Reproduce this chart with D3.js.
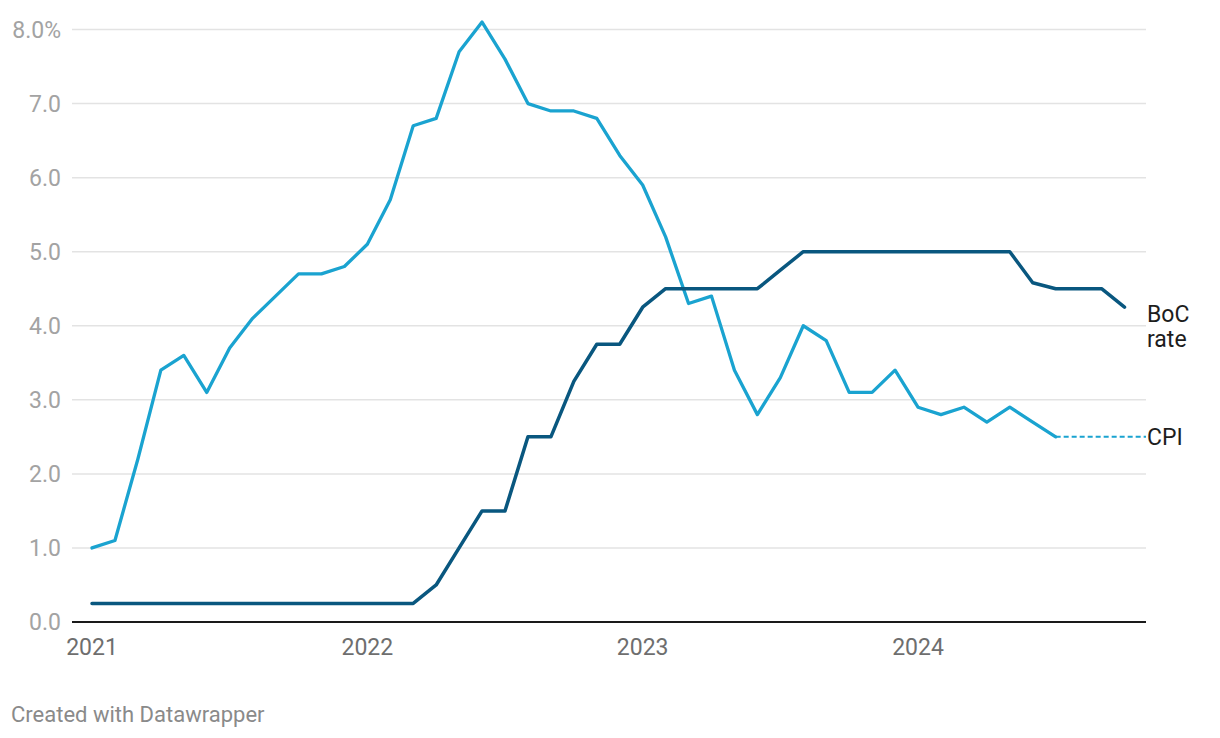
<!DOCTYPE html>
<html>
<head>
<meta charset="utf-8">
<script src="https://cdn.jsdelivr.net/npm/d3@7"></script>
<style>
  html, body { margin: 0; padding: 0; background: #fff; }
  svg { display: block; font-family: Roboto, "Noto Sans", sans-serif; }
</style>
</head>
<body>
<svg id="chart" width="1220" height="738"></svg>
<script>
// ---- data ----
const startYear = 2021;            // month index 0 = Jan 2021
const yearTicks = [2021, 2022, 2023, 2024];
const yTicks = [0, 1, 2, 3, 4, 5, 6, 7, 8];
const cpiValues = [
  1.0, 1.1, 2.2, 3.4, 3.6, 3.1, 3.7, 4.1, 4.4, 4.7, 4.7, 4.8,
  5.1, 5.7, 6.7, 6.8, 7.7, 8.1, 7.6, 7.0, 6.9, 6.9, 6.8, 6.3,
  5.9, 5.2, 4.3, 4.4, 3.4, 2.8, 3.3, 4.0, 3.8, 3.1, 3.1, 3.4,
  2.9, 2.8, 2.9, 2.7, 2.9, 2.7, 2.5
];
const bocValues = [
  0.25, 0.25, 0.25, 0.25, 0.25, 0.25, 0.25, 0.25, 0.25, 0.25, 0.25, 0.25,
  0.25, 0.25, 0.25, 0.5, 1.0, 1.5, 1.5, 2.5, 2.5, 3.25, 3.75, 3.75,
  4.25, 4.5, 4.5, 4.5, 4.5, 4.5, 4.75, 5.0, 5.0, 5.0, 5.0, 5.0,
  5.0, 5.0, 5.0, 5.0, 5.0, 4.58, 4.5, 4.5, 4.5, 4.25
];
const seriesLabels = { boc: ["BoC", "rate"], cpi: ["CPI"] };
const footerText = "Created with Datawrapper";

// ---- layout ----
const svg = d3.select("#chart");
const plotLeft = 72, plotRight = 1146;
const x = d3.scaleLinear().domain([0, 45]).range([92, 1124.5]);
const y = d3.scaleLinear().domain([0, 8]).range([622, 29.5]);
const FONT = 23;

// gridlines
svg.append("g").selectAll("line")
  .data(yTicks.filter(d => d > 0))
  .join("line")
  .attr("x1", plotLeft).attr("x2", plotRight)
  .attr("y1", d => y(d)).attr("y2", d => y(d))
  .attr("stroke", "#e3e3e3").attr("stroke-width", 1.5);

// y labels
svg.append("g").selectAll("text")
  .data(yTicks)
  .join("text")
  .attr("x", 61).attr("y", d => y(d))
  .attr("dy", "0.35em")
  .attr("text-anchor", "end")
  .attr("font-size", FONT)
  .attr("fill", "#a3a3a3")
  .text(d => d3.format(".1f")(d) + (d === 8 ? "%" : ""));

// baseline
svg.append("line")
  .attr("x1", plotLeft).attr("x2", plotRight)
  .attr("y1", y(0)).attr("y2", y(0))
  .attr("stroke", "#1a1a1a").attr("stroke-width", 2.2);

// x labels
svg.append("g").selectAll("text")
  .data(yearTicks)
  .join("text")
  .attr("x", d => x((d - startYear) * 12))
  .attr("y", 655)
  .attr("text-anchor", "middle")
  .attr("font-size", FONT)
  .attr("fill", "#6e6e6e")
  .text(d => d);

// lines
const line = d3.line()
  .x((d, i) => x(i))
  .y(d => y(d));

const cpiColor = "#1aa3d0", bocColor = "#09577f";

// CPI dotted extension
const lastCpiIdx = cpiValues.length - 1;
svg.append("line")
  .attr("x1", x(lastCpiIdx)).attr("x2", plotRight)
  .attr("y1", y(cpiValues[lastCpiIdx])).attr("y2", y(cpiValues[lastCpiIdx]))
  .attr("stroke", cpiColor).attr("stroke-width", 2)
  .attr("stroke-dasharray", "5,3");

svg.append("path")
  .datum(cpiValues)
  .attr("d", line)
  .attr("fill", "none")
  .attr("stroke", cpiColor)
  .attr("stroke-width", 3.3)
  .attr("stroke-linejoin", "round")
  .attr("stroke-linecap", "round");

svg.append("path")
  .datum(bocValues)
  .attr("d", line)
  .attr("fill", "none")
  .attr("stroke", bocColor)
  .attr("stroke-width", 3.5)
  .attr("stroke-linejoin", "round")
  .attr("stroke-linecap", "round");

// series labels
const lastBoc = bocValues[bocValues.length - 1];
const bocLab = svg.append("text")
  .attr("x", 1147).attr("y", y(lastBoc) + 15)
  .attr("font-size", FONT).attr("fill", "#1d1d1d");
seriesLabels.boc.forEach((t, i) => {
  bocLab.append("tspan").attr("x", 1147).attr("dy", i === 0 ? 0 : 25).text(t);
});

svg.append("text")
  .attr("x", 1147).attr("y", y(cpiValues[lastCpiIdx]))
  .attr("dy", "0.36em")
  .attr("font-size", FONT).attr("fill", "#1d1d1d")
  .text(seriesLabels.cpi[0]);

// footer
svg.append("text")
  .attr("x", 11).attr("y", 722)
  .attr("font-size", 22)
  .attr("fill", "#8a8a8a")
  .text(footerText);
</script>
</body>
</html>
